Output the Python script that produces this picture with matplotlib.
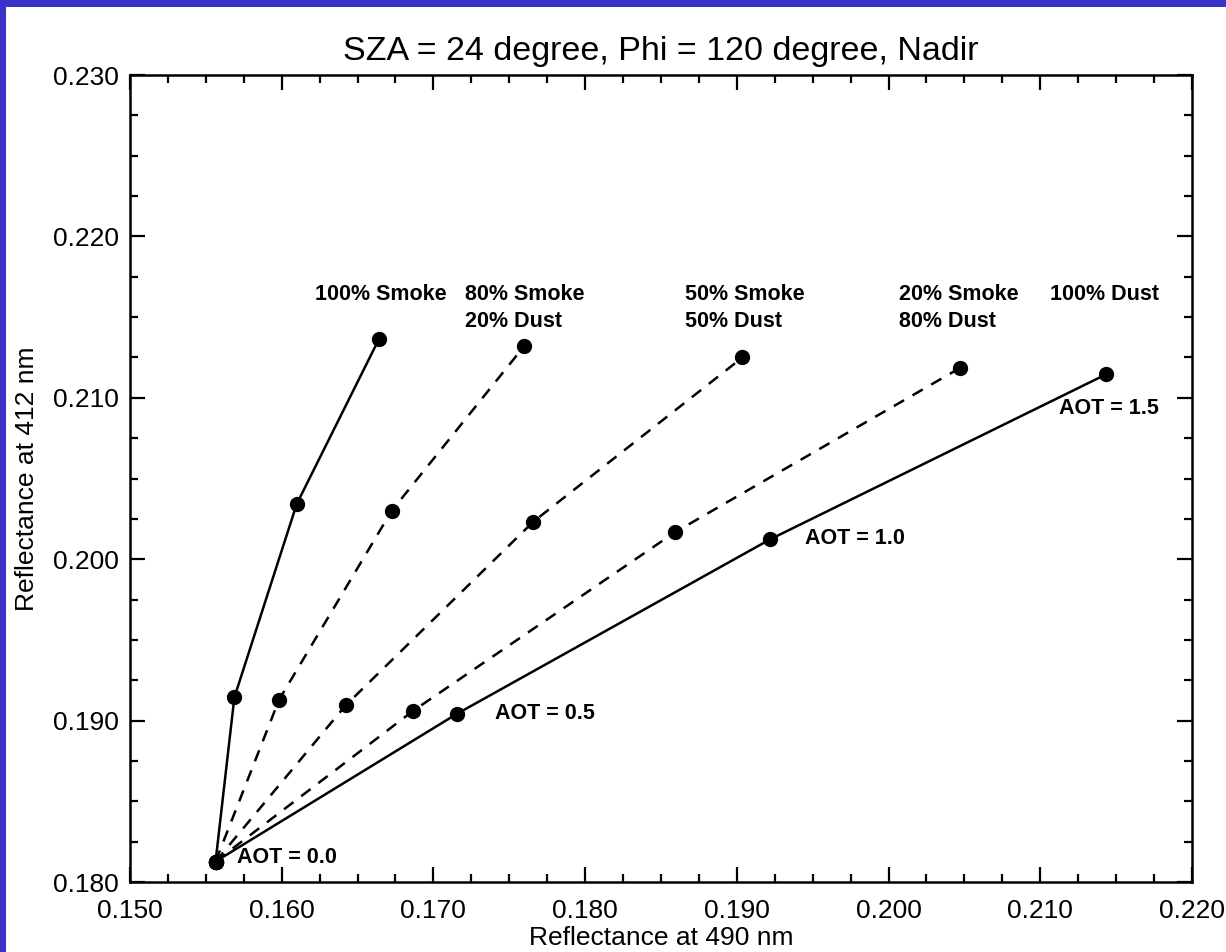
"""
Reflectance at 412 nm vs 490 nm for smoke / dust mixtures,
AOT from 0.0 to 1.5 (SZA = 24 deg, Phi = 120 deg, nadir view).
"""

import matplotlib
matplotlib.use("Agg")
import matplotlib.pyplot as plt
from matplotlib.patches import Rectangle
from matplotlib.ticker import MultipleLocator, FormatStrFormatter

# ── data (AOT = 0.0, 0.5, 1.0, 1.5) ───────────────────────────────────────────
aot = [0.0, 0.5, 1.0, 1.5]

r490_smoke100 = [0.15564, 0.15688, 0.16099, 0.16641]
r412_smoke100 = [0.18127, 0.19144, 0.20342, 0.21364]

r490_smoke80 = [0.15564, 0.15982, 0.16725, 0.17599]
r412_smoke80 = [0.18127, 0.19128, 0.20300, 0.21321]

r490_smoke50 = [0.15564, 0.16422, 0.17658, 0.19037]
r412_smoke50 = [0.18127, 0.19095, 0.20232, 0.21250]

r490_smoke20 = [0.15564, 0.16867, 0.18592, 0.20471]
r412_smoke20 = [0.18127, 0.19061, 0.20167, 0.21185]

r490_dust100 = [0.15564, 0.17153, 0.19219, 0.21433]
r412_dust100 = [0.18127, 0.19041, 0.20123, 0.21145]

series_x = [r490_smoke100, r490_smoke80, r490_smoke50, r490_smoke20, r490_dust100]
series_y = [r412_smoke100, r412_smoke80, r412_smoke50, r412_smoke20, r412_dust100]
series_dashed = [False, True, True, True, False]

# mixture labels: (x, y of first line, lines)
mix_labels = [
    (0.16219, 0.21637, ["100% Smoke"]),
    (0.17208, 0.21637, ["80% Smoke", "20% Dust"]),
    (0.18658, 0.21637, ["50% Smoke", "50% Dust"]),
    (0.20066, 0.21637, ["20% Smoke", "80% Dust"]),
    (0.21064, 0.21637, ["100% Dust"]),
]

aot_labels = [
    (0.15705, 0.18149, "AOT = 0.0"),
    (0.17406, 0.19047, "AOT = 0.5"),
    (0.19449, 0.20131, "AOT = 1.0"),
    (0.21124, 0.20931, "AOT = 1.5"),
]

plt.rcParams["font.family"] = ["Liberation Sans", "DejaVu Sans"]
plt.rcParams["lines.scale_dashes"] = False

fig = plt.figure(figsize=(12.26, 9.52), dpi=100, facecolor="white")
# blue slide strips on the left and top edge
fig.patches.append(Rectangle((0, 0), 6 / 1226, 1, transform=fig.transFigure,
                             facecolor="#3a33c8", edgecolor="none"))
fig.patches.append(Rectangle((0, (952 - 7) / 952), 1, 7 / 952,
                             transform=fig.transFigure,
                             facecolor="#3a33c8", edgecolor="none"))

ax = fig.add_axes([130 / 1226, 70 / 952, 1062 / 1226, 807 / 952])
ax.set_facecolor("white")

for xs, ys, dashed in zip(series_x, series_y, series_dashed):
    line, = ax.plot(xs, ys, color="black", lw=1.8,
                    marker="o", markersize=10, markerfacecolor="black",
                    markeredgecolor="black")
    if dashed:
        line.set_dashes((8.5, 7))

for x, y, lines in mix_labels:
    for i, txt in enumerate(lines):
        ax.annotate(txt, (x, y), xytext=(0, -19.4 * i), textcoords="offset points",
                    ha="left", va="center", fontsize=15.5, fontweight="bold")

for x, y, txt in aot_labels:
    ax.text(x, y, txt, ha="left", va="center", fontsize=15.5, fontweight="bold")

ax.set_xlim(0.150, 0.220)
ax.set_ylim(0.180, 0.230)
ax.xaxis.set_major_locator(MultipleLocator(0.010))
ax.xaxis.set_minor_locator(MultipleLocator(0.0025))
ax.yaxis.set_major_locator(MultipleLocator(0.010))
ax.yaxis.set_minor_locator(MultipleLocator(0.0025))
ax.xaxis.set_major_formatter(FormatStrFormatter("%.3f"))
ax.yaxis.set_major_formatter(FormatStrFormatter("%.3f"))

ax.tick_params(which="both", direction="in", top=True, right=True, width=1.6)
ax.tick_params(which="major", length=11)
ax.tick_params(which="minor", length=5.5)
ax.tick_params(axis="x", which="major", labelsize=19, pad=12.5)
ax.tick_params(axis="y", which="major", labelsize=19, pad=8)
for sp in ax.spines.values():
    sp.set_linewidth(1.8)

ax.set_xlabel("Reflectance at 490 nm", fontsize=19, labelpad=2)
ax.set_ylabel("Reflectance at 412 nm", fontsize=19, labelpad=10)
ax.set_title("SZA = 24 degree, Phi = 120 degree, Nadir", fontsize=24.5, pad=11)

fig.savefig("out.png", dpi=100)
